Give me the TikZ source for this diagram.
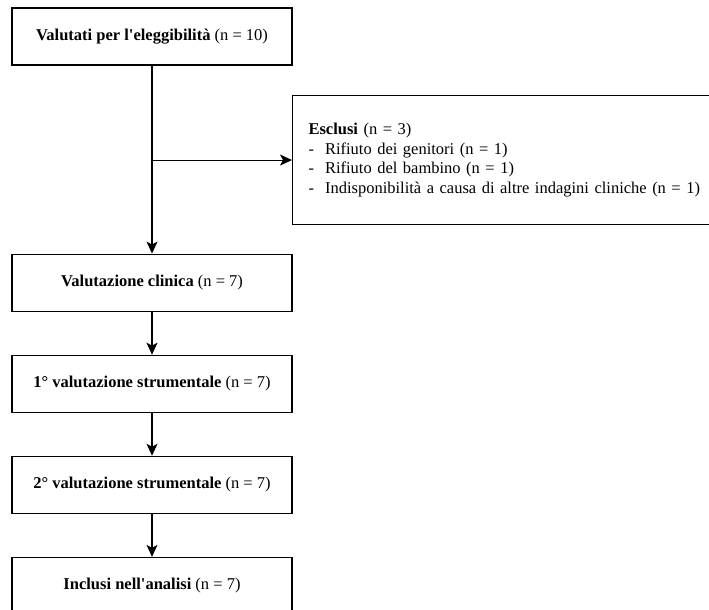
\documentclass[tikz,border=0pt]{standalone}
\usepackage{fontspec}
\setmainfont{Liberation Serif}
\usetikzlibrary{positioning, arrows.meta}

\begin{document}
\begin{tikzpicture}[x=1pt, y=1pt, font=\fontsize{16.5}{19.8}\selectfont, node distance=43pt,
    box/.style={draw, line width=1.1pt, minimum width=280pt, minimum height=57pt, inner sep=0pt},
    freccia/.style={-{Stealth[length=12pt, width=11pt, inset=3pt]}, line width=1.1pt}]
    \useasboundingbox (0,0) rectangle (709,-610);
    \clip (0,0) rectangle (709,-610);
    % colonna principale
    \node[box] (valutati) at (152,-36.5) {\textbf{Valutati per l\textquotesingle eleggibilità} (n = 10)};
    \node[box, below=188pt of valutati] (clinica) {\textbf{Valutazione clinica} (n = 7)};
    \node[box, below=of clinica] (strum1) {\textbf{1° valutazione strumentale} (n = 7)};
    \node[box, below=of strum1] (strum2) {\textbf{2° valutazione strumentale} (n = 7)};
    \node[box, below=of strum2] (inclusi) {\textbf{Inclusi nell\textquotesingle analisi} (n = 7)};
    % esclusi
    \node[box, anchor=north west, minimum height=129pt, text width=420pt, inner xsep=16pt, align=left] (esclusi) at (292,-95)
        {\textbf{Esclusi} (n = 3)\\
         -\ \ Rifiuto dei genitori (n = 1)\\
         -\ \ Rifiuto del bambino (n = 1)\\
         -\ \ Indisponibilità a causa di altre indagini cliniche (n = 1)};
    \coordinate (bivio) at (valutati.south |- esclusi.west);
    \draw[freccia] (valutati) -- (clinica);
    \draw[freccia] (bivio) -- (esclusi);
    \draw[freccia] (clinica) -- (strum1);
    \draw[freccia] (strum1) -- (strum2);
    \draw[freccia] (strum2) -- (inclusi);
\end{tikzpicture}
\end{document}
